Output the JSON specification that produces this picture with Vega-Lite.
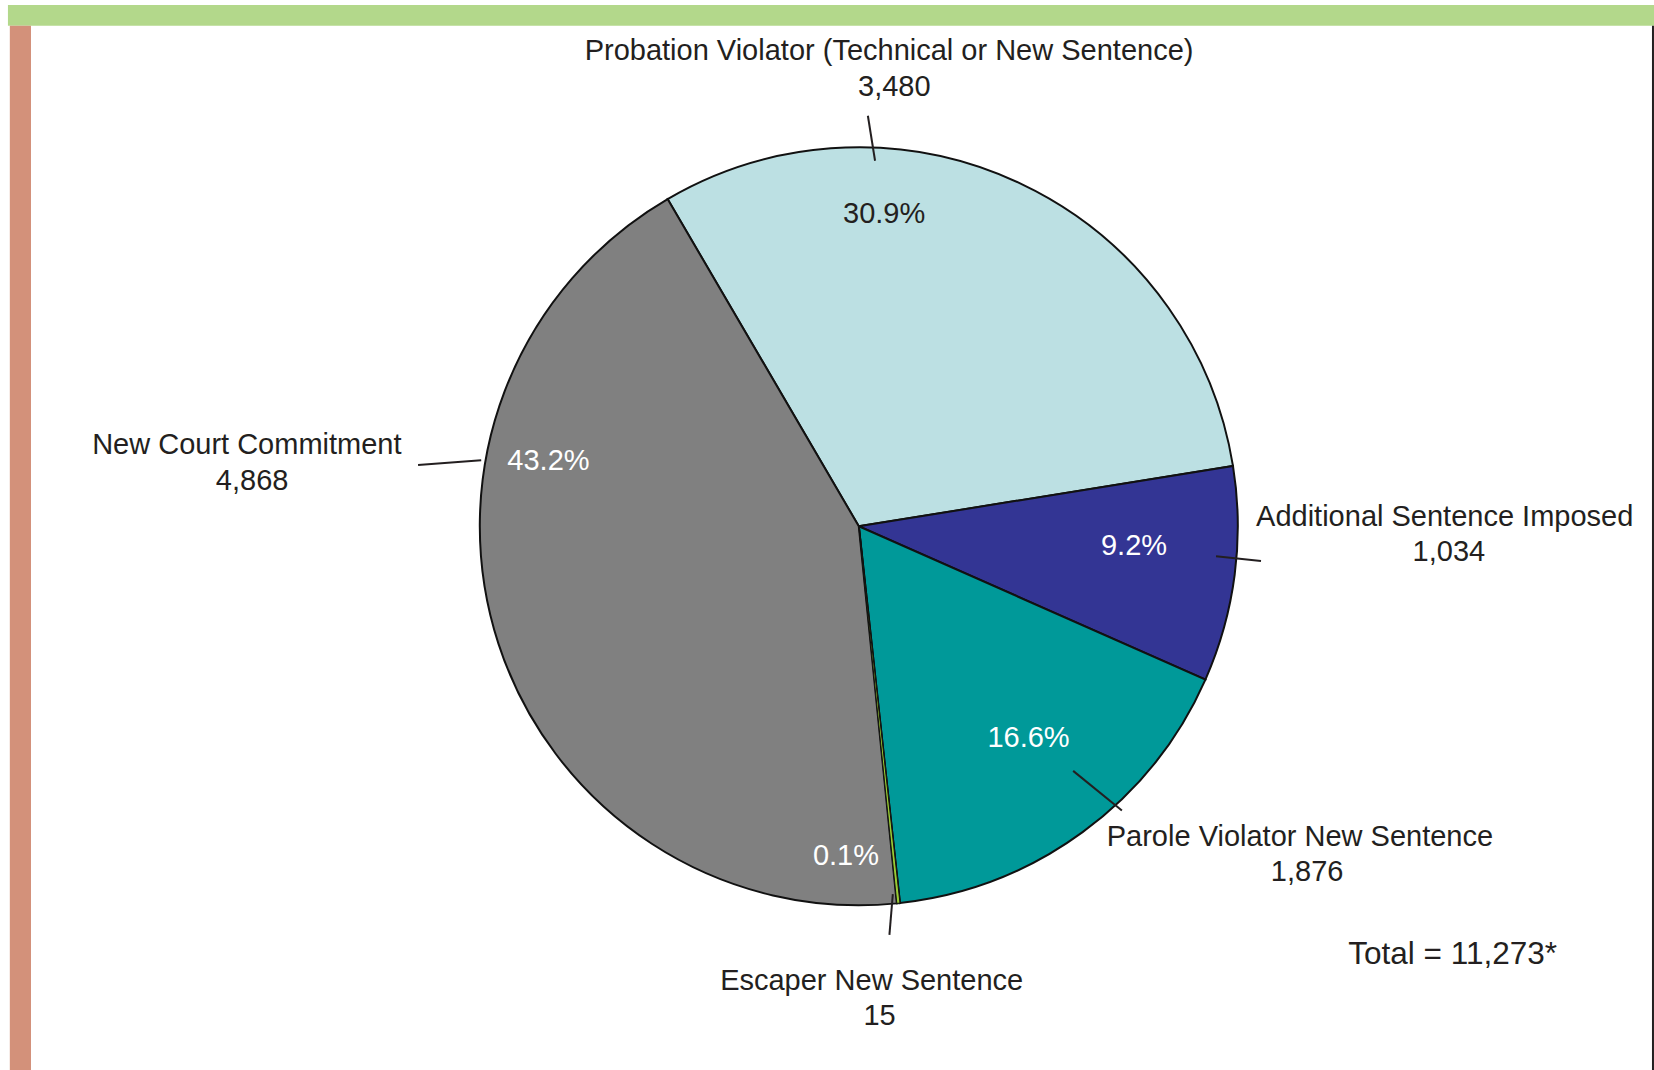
{
  "$schema": "https://vega.github.io/schema/vega-lite/v6.json",
  "width": 1654,
  "height": 1070,
  "padding": 0,
  "autosize": {"type": "none"},
  "background": "white",
  "config": {
    "view": {"stroke": null},
    "axis": {"disable": true},
    "legend": {"disable": true},
    "text": {"font": "Liberation Sans", "fontSize": 29, "color": "#231f20"}
  },
  "data": {
    "values": [
      {"category": "Probation Violator (Technical or New Sentence)", "count": 3480, "pct": 0.309, "order": 1},
      {"category": "Additional Sentence Imposed", "count": 1034, "pct": 0.092, "order": 2},
      {"category": "Parole Violator New Sentence", "count": 1876, "pct": 0.166, "order": 3},
      {"category": "Escaper New Sentence", "count": 15, "pct": 0.001, "order": 4},
      {"category": "New Court Commitment", "count": 4868, "pct": 0.432, "order": 5}
    ]
  },
  "layer": [
    {
      "transform": [{"filter": "datum.order === 1"}],
      "mark": {"type": "rect", "color": "#b3d88b"},
      "encoding": {
        "x": {"datum": -2.251, "type": "quantitative", "scale": {"domain": [-2.272, 2.1037], "nice": false, "zero": false}},
        "x2": {"datum": 2.1037},
        "y": {"datum": 1.379, "type": "quantitative", "scale": {"domain": [-1.4384, 1.3923], "nice": false, "zero": false}},
        "y2": {"datum": 1.324}
      }
    },
    {
      "transform": [{"filter": "datum.order === 1"}],
      "mark": {"type": "rect", "color": "#d3917a"},
      "encoding": {
        "x": {"datum": -2.246},
        "x2": {"datum": -2.190},
        "y": {"datum": 1.324},
        "y2": {"datum": -1.4384}
      }
    },
    {
      "transform": [{"filter": "datum.order === 1"}],
      "mark": {"type": "rule", "color": "#231f20", "strokeWidth": 2},
      "encoding": {
        "x": {"datum": 2.101},
        "y": {"datum": 1.324},
        "y2": {"datum": -1.4384}
      }
    },
    {
      "mark": {"type": "arc", "outerRadius": 379, "stroke": "#111111", "strokeWidth": 2},
      "encoding": {
        "x": {"datum": 0},
        "y": {"datum": 0},
        "theta": {"field": "count", "type": "quantitative", "stack": true, "scale": {"range": [-0.5288, 5.7544]}},
        "order": {"field": "order", "type": "quantitative"},
        "color": {
          "field": "category",
          "type": "nominal",
          "scale": {
            "domain": ["Probation Violator (Technical or New Sentence)", "Additional Sentence Imposed", "Parole Violator New Sentence", "Escaper New Sentence", "New Court Commitment"],
            "range": ["#bce0e3", "#333594", "#009999", "#99cc33", "#808080"]
          },
          "legend": null
        }
      }
    },
    {
      "transform": [
        {"stack": "count", "groupby": [], "sort": [{"field": "order", "order": "ascending"}], "as": ["t0", "t1"]},
        {"filter": "datum.order === 4"}
      ],
      "mark": {"type": "arc", "outerRadius": 379, "stroke": "#111111", "strokeWidth": 1},
      "encoding": {
        "x": {"datum": 0},
        "y": {"datum": 0},
        "theta": {"field": "t0", "type": "quantitative"},
        "theta2": {"field": "t1"},
        "color": {"field": "category", "type": "nominal", "legend": null}
      }
    },
    {
      "transform": [{"filter": "datum.order === 1"}],
      "layer": [
        {"mark": {"type": "text"}, "encoding": {"x": {"datum": 0.080}, "y": {"datum": 1.258}, "text": {"field": "category"}}},
        {"mark": {"type": "text"}, "encoding": {"x": {"datum": 0.094}, "y": {"datum": 1.163}, "text": {"field": "count", "format": ","}}},
        {"mark": {"type": "text", "color": "#231f20"}, "encoding": {"x": {"datum": 0.067}, "y": {"datum": 0.826}, "text": {"field": "pct", "format": ".1%"}}},
        {"mark": {"type": "rule", "color": "#231f20", "strokeWidth": 2}, "encoding": {"x": {"datum": 0.024}, "y": {"datum": 1.086}, "x2": {"datum": 0.043}, "y2": {"datum": 0.967}}}
      ]
    },
    {
      "transform": [{"filter": "datum.order === 2"}],
      "layer": [
        {"mark": {"type": "text"}, "encoding": {"x": {"datum": 1.550}, "y": {"datum": 0.025}, "text": {"field": "category"}}},
        {"mark": {"type": "text"}, "encoding": {"x": {"datum": 1.561}, "y": {"datum": -0.067}, "text": {"field": "count", "format": ","}}},
        {"mark": {"type": "text", "color": "white"}, "encoding": {"x": {"datum": 0.728}, "y": {"datum": -0.053}, "text": {"field": "pct", "format": ".1%"}}},
        {"mark": {"type": "rule", "color": "#231f20", "strokeWidth": 2}, "encoding": {"x": {"datum": 0.945}, "y": {"datum": -0.079}, "x2": {"datum": 1.064}, "y2": {"datum": -0.092}}}
      ]
    },
    {
      "transform": [{"filter": "datum.order === 3"}],
      "layer": [
        {"mark": {"type": "text"}, "encoding": {"x": {"datum": 1.167}, "y": {"datum": -0.823}, "text": {"field": "category"}}},
        {"mark": {"type": "text"}, "encoding": {"x": {"datum": 1.186}, "y": {"datum": -0.915}, "text": {"field": "count", "format": ","}}},
        {"mark": {"type": "text", "color": "white"}, "encoding": {"x": {"datum": 0.449}, "y": {"datum": -0.561}, "text": {"field": "pct", "format": ".1%"}}},
        {"mark": {"type": "rule", "color": "#231f20", "strokeWidth": 2}, "encoding": {"x": {"datum": 0.567}, "y": {"datum": -0.647}, "x2": {"datum": 0.696}, "y2": {"datum": -0.752}}}
      ]
    },
    {
      "transform": [{"filter": "datum.order === 4"}],
      "layer": [
        {"mark": {"type": "text"}, "encoding": {"x": {"datum": 0.034}, "y": {"datum": -1.203}, "text": {"field": "category"}}},
        {"mark": {"type": "text"}, "encoding": {"x": {"datum": 0.055}, "y": {"datum": -1.295}, "text": {"field": "count", "format": ","}}},
        {"mark": {"type": "text", "color": "white"}, "encoding": {"x": {"datum": -0.034}, "y": {"datum": -0.871}, "text": {"field": "pct", "format": ".1%"}}},
        {"mark": {"type": "rule", "color": "#231f20", "strokeWidth": 2}, "encoding": {"x": {"datum": 0.090}, "y": {"datum": -0.973}, "x2": {"datum": 0.081}, "y2": {"datum": -1.081}}}
      ]
    },
    {
      "transform": [{"filter": "datum.order === 5"}],
      "layer": [
        {"mark": {"type": "text"}, "encoding": {"x": {"datum": -1.619}, "y": {"datum": 0.215}, "text": {"field": "category"}}},
        {"mark": {"type": "text"}, "encoding": {"x": {"datum": -1.605}, "y": {"datum": 0.120}, "text": {"field": "count", "format": ","}}},
        {"mark": {"type": "text", "color": "white"}, "encoding": {"x": {"datum": -0.821}, "y": {"datum": 0.173}, "text": {"field": "pct", "format": ".1%"}}},
        {"mark": {"type": "rule", "color": "#231f20", "strokeWidth": 2}, "encoding": {"x": {"datum": -1.166}, "y": {"datum": 0.162}, "x2": {"datum": -0.999}, "y2": {"datum": 0.175}}}
      ]
    },
    {
      "transform": [{"filter": "datum.order === 1"}],
      "mark": {"type": "text", "fontSize": 31.5},
      "encoding": {"x": {"datum": 1.571}, "y": {"datum": -1.133}, "text": {"value": "Total = 11,273*"}}
    }
  ]
}
